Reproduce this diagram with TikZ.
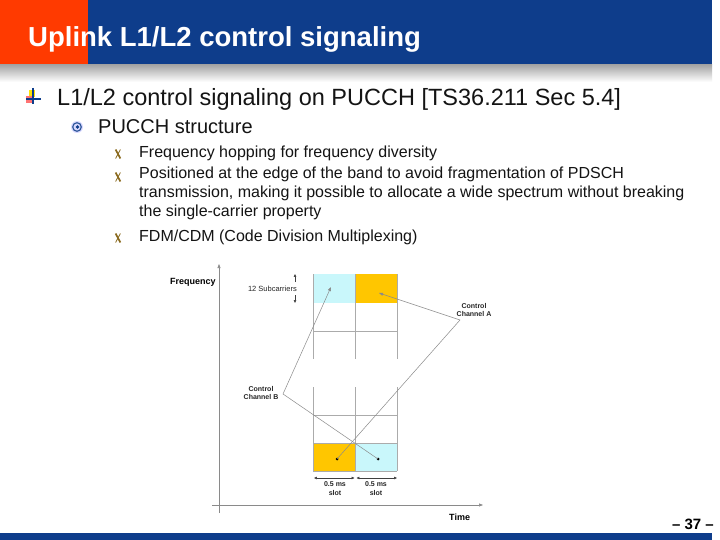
\documentclass[tikz,border=0pt]{standalone}
\usepackage{fontspec}
\setmainfont{Liberation Sans}
\usetikzlibrary{arrows.meta}
\definecolor{hblue}{HTML}{0E3D8B}
\definecolor{hred}{HTML}{FF3A00}
\definecolor{ccyan}{HTML}{C9F7FB}
\definecolor{corange}{HTML}{FFC600}
\definecolor{gridc}{HTML}{ABABAB}
\definecolor{xbrown}{HTML}{8A6A1E}
\definecolor{linec}{HTML}{8A8A8A}
\begin{document}
\begin{tikzpicture}[x=1pt,y=-1pt,
  txt/.style={anchor=base west, inner sep=0pt, text=black!92},
  small/.style={inner sep=0pt, font=\fontsize{7}{8.6}\selectfont\bfseries, text=black!85, align=center},
  gridline/.style={draw=gridc, line width=0.8pt},
  pointer/.style={draw=linec, line width=0.5pt},
  tip/.style={-{Triangle[length=4pt,width=3pt]}},
  onetip/.style={black!75, line width=0.4pt, -{Triangle[length=2.8pt,width=2.4pt]}},
  dbl/.style={black!75, line width=0.4pt, {Triangle[length=2.8pt,width=2.4pt]}-{Triangle[length=2.8pt,width=2.4pt]}},
  dot/.style={circle, fill=black, inner sep=0pt, minimum size=3pt},
  xmark/.pic={\draw[xbrown, line width=1.7pt] (-2.4,-4.5) -- (2.4,4.5);
              \draw[xbrown, line width=0.8pt] (2.4,-4.5) -- (-2.4,4.5);}
]
\useasboundingbox (0,0) rectangle (720,540);
\fill[white] (0,0) rectangle (720,540);
% header
\fill[hred] (0,0) rectangle (88,65);
\fill[hblue] (88,0) rectangle (712,65);
\shade[top color=black!35, bottom color=white] (0,65) rectangle (712,82);
\node[anchor=base west, inner sep=0pt, text=white, font=\bfseries\fontsize{27.5}{30}\selectfont] (title) at (28,47) {Uplink L1/L2 control signaling};
% footer
\fill[hblue] (0,533) rectangle (712,540);
\node[anchor=base east, inner sep=0pt, font=\bfseries\fontsize{15}{16}\selectfont] (pagenum) at (714,529) {\textendash\ 37 \textendash};
% bullet 1 icon
\fill[yellow!85!orange] (29,90) rectangle (35,97);
\fill[red!55] (26,96) rectangle (32,103);
\draw[hblue, line width=1.3pt] (33,88) -- (33,104);
\draw[hblue, line width=1.3pt] (26,99) -- (41,99);
\node[txt, font=\fontsize{23.5}{26}\selectfont] (l1) at (57,105.5) {L1/L2 control signaling on PUCCH [TS36.211 Sec 5.4]};
% bullet 2 icon
\fill[blue!15] (77,127) circle (6);
\draw[hblue!85, line width=1.2pt] (77,127) circle (4.3);
\fill[hblue] (77.5,127) circle (1.8);
\node[txt, font=\fontsize{20}{22}\selectfont] (l2) at (98,134) {PUCCH structure};
% sub bullets
\pic at (118,154) {xmark};
\pic at (118,177) {xmark};
\pic at (118,238) {xmark};
\node[txt, font=\fontsize{16}{19.5}\selectfont] (s1) at (139,158) {Frequency hopping for frequency diversity};
\node[anchor=north west, inner sep=0pt, text=black!92, align=left, font=\fontsize{16}{19.3}\selectfont] (s2) at (139,166.5) {Positioned at the edge of the band to avoid fragmentation of PDSCH\\transmission, making it possible to allocate a wide spectrum without breaking\\the single-carrier property};
\node[txt, font=\fontsize{16}{19.5}\selectfont] (s3) at (139,241.5) {FDM/CDM (Code Division Multiplexing)};
% axes
\coordinate (fbot) at (219,513);
\coordinate (ftop) at (219,264);
\coordinate (tleft) at (212,505);
\coordinate (tright) at (483,505);
\draw[linec, line width=0.6pt, tip] (fbot) -- (ftop);
\draw[linec, line width=0.6pt, tip] (tleft) -- (tright);
\node[inner sep=0pt, font=\bfseries\fontsize{9}{10}\selectfont, anchor=base west] (freq) at (170,284) {Frequency};
\node[inner sep=0pt, font=\bfseries\fontsize{9}{10}\selectfont, anchor=base west] (time) at (449,520) {Time};
% upper grid
\fill[ccyan] (313,274) rectangle (355,303);
\fill[corange] (355,274) rectangle (397,303);
\draw[gridline] (313,274) -- (313,359);
\draw[gridline] (355,274) -- (355,359);
\draw[gridline] (397,274) -- (397,359);
\draw[gridline] (313,331) -- (397,331);
% lower grid
\fill[corange] (313,443) rectangle (355,471);
\fill[ccyan] (355,443) rectangle (397,471);
\draw[gridline] (313,387) -- (313,471);
\draw[gridline] (355,387) -- (355,471);
\draw[gridline] (397,387) -- (397,471);
\draw[gridline] (313,415) -- (397,415);
\draw[gridline] (313,443) -- (397,443);
\draw[gridline] (313,471) -- (397,471);
% 12 subcarriers
\node[inner sep=0pt, font=\fontsize{7.5}{9}\selectfont, text=black!85, anchor=base east] (sub) at (297,291.5) {12 Subcarriers};
\coordinate (sct) at (295,274);
\coordinate (sctm) at (295,282);
\coordinate (scbm) at (295,295);
\coordinate (scb) at (295,303);
\draw[onetip] (sctm) -- (sct);
\draw[onetip] (scbm) -- (scb);
% slot labels
\coordinate (s1l) at (314,478); \coordinate (s1r) at (354.5,478);
\coordinate (s2l) at (356.5,478); \coordinate (s2r) at (397,478);
\draw[dbl] (s1l) -- (s1r);
\draw[dbl] (s2l) -- (s2r);
\node[small] (slot1) at (335,488.5) {0.5 ms\\slot};
\node[small] (slot2) at (376,488.5) {0.5 ms\\slot};
% control channel labels
\node[small] (cb) at (261,393) {Control\\Channel B};
\node[small] (ca) at (474,310) {Control\\Channel A};
\coordinate (cbp) at (283,394);
\coordinate (cap) at (460,320);
% dots
\coordinate (ub) at (331,287);
\coordinate (ua) at (379,293);
\node[dot] (lb) at (378,459) {};
\node[dot] (la) at (337,459) {};
% pointers
\draw[pointer, tip] (cbp) -- (ub);
\draw[pointer] (cbp) -- (lb.center);
\draw[pointer, tip] (cap) -- (ua);
\draw[pointer] (cap) -- (la.center);
\end{tikzpicture}
\end{document}
